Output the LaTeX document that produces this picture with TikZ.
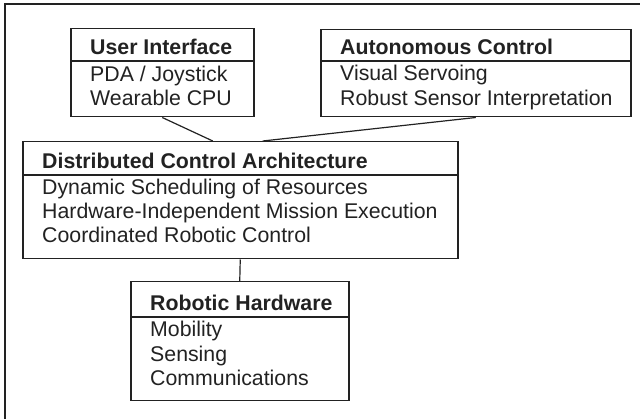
\documentclass[tikz,border=0pt]{standalone}
\usepackage{fontspec}
\setmainfont{Liberation Sans}
\usetikzlibrary{calc}
\definecolor{ink}{HTML}{222222}
\begin{document}
\begin{tikzpicture}[x=1pt,y=-1pt,
  box/.style={draw=ink,line width=1.5pt,anchor=north west,inner sep=0pt},
  txt/.style={anchor=base west,inner sep=0pt,text=ink,font=\fontsize{21.3pt}{24pt}\selectfont},
  ttl/.style={txt,font=\fontsize{21.3pt}{24pt}\selectfont\bfseries},
  link/.style={draw=ink,line width=1.2pt}]
\useasboundingbox (0,0) rectangle (640,419);
\fill[white] (0,0) rectangle (640,419);
\draw[ink,line width=1.5pt] (5,419) -- (5,4) -- (640,4);
% boxes
\node[box,minimum width=183pt,minimum height=88pt] (ui) at (70,28) {};
\node[box,minimum width=310pt,minimum height=87pt] (ac) at (320,29) {};
\node[box,minimum width=435pt,minimum height=117pt] (dca) at (22,141) {};
\node[box,minimum width=218pt,minimum height=119pt] (rh) at (130,281) {};
% dividers
\draw[link,line width=1.5pt] ($(ui.north west)+(0,33)$) -- ($(ui.north east)+(0,33)$);
\draw[link,line width=1.5pt] ($(ac.north west)+(0,32)$) -- ($(ac.north east)+(0,32)$);
\draw[link,line width=1.5pt] ($(dca.north west)+(0,34)$) -- ($(dca.north east)+(0,34)$);
\draw[link,line width=1.5pt] ($(rh.north west)+(0,36)$) -- ($(rh.north east)+(0,36)$);
% texts
\node[ttl] (uit) at (90,55) {User Interface};
\node[txt] (ui1) at (90,82) {PDA / Joystick};
\node[txt] (ui2) at (90,106) {Wearable CPU};
\node[ttl] (act) at (340,55) {Autonomous Control};
\node[txt] (ac1) at (340,81) {Visual Servoing};
\node[txt] (ac2) at (340,106) {Robust Sensor Interpretation};
\node[ttl] (dcat) at (42,169) {Distributed Control Architecture};
\node[txt] (dca1) at (42,195) {Dynamic Scheduling of Resources};
\node[txt] (dca2) at (42,219) {Hardware-Independent Mission Execution};
\node[txt] (dca3) at (42,243) {Coordinated Robotic Control};
\node[ttl] (rht) at (150,311) {Robotic Hardware};
\node[txt] (rh1) at (150,337) {Mobility};
\node[txt] (rh2) at (150,361.5) {Sensing};
\node[txt] (rh3) at (150,386) {Communications};
% connectors
\draw[link] (ui.south) -- ($(dca.north)+(-27.5,0)$);
\draw[link] (ac.south) -- ($(dca.north)+(22.5,0)$);
\draw[link] (dca.south) -- (rh.north);
\end{tikzpicture}
\end{document}
